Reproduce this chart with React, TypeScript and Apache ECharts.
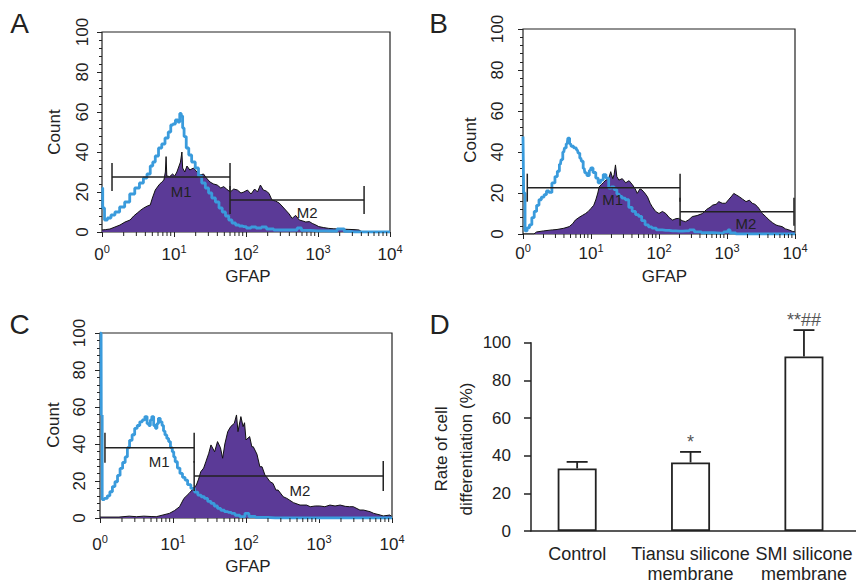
import React, { useEffect, useRef } from 'react';
import * as echarts from 'echarts';

// ---------- DATA ----------
// histogram points: [log10(GFAP intensity), count]
const aControl: number[][] = [[0,22],[0.02,12],[0.05,6],[0.1,7],[0.15,8.5],[0.21,10],[0.28,12.5],[0.35,15],[0.42,19],[0.49,22],[0.55,24.5],[0.6,27],[0.65,29],[0.69,33],[0.72,35],[0.76,38],[0.81,42],[0.85,44],[0.9,47],[0.94,50],[0.97,53.5],[1.0,54],[1.04,56],[1.07,55],[1.09,59.3],[1.11,58],[1.13,52],[1.15,47.7],[1.19,42],[1.22,38.5],[1.27,35],[1.32,32],[1.36,28],[1.41,24.5],[1.46,22],[1.5,19.5],[1.55,17],[1.6,15],[1.65,12],[1.69,10],[1.74,8],[1.78,6],[1.83,4.5],[1.88,3.5],[1.93,3],[1.97,2.7],[2.04,2],[2.1,2.5],[2.18,2],[2.25,2.5],[2.32,1.5],[2.45,1],[2.55,1],[2.68,1],[2.74,2],[2.8,0.8],[3.0,0.6],[3.2,0.5],[3.33,1.5],[3.4,0.3],[3.5,0],[4,0]];
const aGfap: number[][] = [[0,1],[0.05,1.2],[0.11,1.5],[0.18,2.5],[0.25,3.5],[0.32,5],[0.39,6],[0.44,8],[0.49,9.5],[0.54,11],[0.58,12],[0.63,13],[0.67,13.5],[0.7,17],[0.74,21],[0.79,23.5],[0.83,25],[0.86,26],[0.88,30],[0.89,37.7],[0.9,28],[0.94,27.7],[0.98,29],[1.01,28],[1.04,30],[1.07,33],[1.09,35],[1.11,40],[1.12,32],[1.15,30],[1.18,33],[1.22,31],[1.27,32],[1.32,30],[1.36,28.5],[1.41,29],[1.45,27],[1.5,25],[1.55,24],[1.6,23.5],[1.65,22],[1.69,22.7],[1.73,21.5],[1.78,20],[1.83,21.5],[1.88,21],[1.93,19.5],[1.97,20],[2.02,21],[2.07,19],[2.12,21.5],[2.16,20],[2.2,23.5],[2.24,21],[2.28,20.5],[2.32,19.3],[2.36,16],[2.41,15.5],[2.46,14.5],[2.5,13],[2.55,11],[2.6,9],[2.64,6.8],[2.69,8.3],[2.74,6],[2.79,5.5],[2.83,5],[2.88,5.2],[2.92,4.3],[2.97,3.5],[3.01,2.7],[3.08,2.2],[3.15,1.8],[3.22,1.6],[3.29,1.5],[3.36,1.4],[3.43,1.3],[3.5,1.2],[3.57,1],[3.6,0.3],[3.65,0],[4,0]];

const bControl: number[][] = [[0,47.6],[0.02,20],[0.04,1.5],[0.08,3],[0.11,4.5],[0.15,8],[0.18,11],[0.22,14],[0.25,16.7],[0.29,18],[0.33,19.2],[0.36,21],[0.4,20.3],[0.45,24.9],[0.49,28],[0.52,30.6],[0.55,34],[0.57,36.3],[0.6,40],[0.62,42],[0.65,44],[0.67,46.8],[0.7,44],[0.72,42.8],[0.77,42],[0.8,41],[0.82,39.5],[0.85,37],[0.87,35.5],[0.9,32],[0.92,29.8],[0.96,28.5],[0.99,31],[1.01,32.2],[1.05,30],[1.09,27.3],[1.12,25],[1.16,26.3],[1.2,29],[1.24,27.3],[1.28,22.4],[1.32,23],[1.36,21.6],[1.4,19.5],[1.43,18.4],[1.48,17.5],[1.53,16.7],[1.58,13],[1.63,11],[1.68,9.5],[1.72,8.6],[1.77,6.5],[1.82,4.5],[1.87,3.5],[1.92,2.9],[2.0,2],[2.1,1.8],[2.2,1.5],[2.3,1.4],[2.4,1.5],[2.49,2],[2.55,1],[2.7,0.6],[2.9,0.4],[3.0,1],[3.03,2],[3.06,0.5],[3.2,0],[4,0]];
const bGfap: number[][] = [[0,0],[0.16,0],[0.2,1],[0.3,1.5],[0.43,2],[0.5,2.2],[0.6,2.8],[0.68,3.6],[0.73,5],[0.77,6.8],[0.82,8],[0.87,9],[0.92,10],[0.96,11],[1.0,12.5],[1.04,14],[1.07,16.6],[1.1,20],[1.12,23],[1.15,24],[1.18,25],[1.22,26.3],[1.26,27],[1.29,30.4],[1.32,27],[1.34,29],[1.36,33.7],[1.38,28],[1.41,26.3],[1.46,27],[1.51,25],[1.56,26],[1.61,24],[1.65,22],[1.68,19.8],[1.72,22],[1.75,21.5],[1.79,20],[1.83,18.2],[1.87,15],[1.9,13.3],[1.95,11],[2.0,10],[2.05,11],[2.1,10],[2.15,8],[2.2,6.8],[2.25,7.5],[2.29,7.6],[2.34,6.5],[2.39,6],[2.44,7],[2.49,8.5],[2.56,9],[2.64,10],[2.7,12],[2.75,13],[2.79,14.1],[2.84,14.5],[2.88,15.8],[2.93,15],[2.98,15],[3.03,17],[3.07,18.5],[3.1,19.8],[3.14,19],[3.18,18.2],[3.23,17],[3.28,15.8],[3.33,16.5],[3.37,15],[3.41,14.5],[3.45,13.3],[3.49,11.5],[3.52,10],[3.57,8.5],[3.62,6.8],[3.67,5.5],[3.72,4.4],[3.76,4],[3.81,3.6],[3.86,2.5],[3.91,2],[3.96,1.3],[4,1]];

const cControl: number[][] = [[0,100],[0.015,100],[0.02,55.7],[0.04,10],[0.08,10.6],[0.12,12],[0.15,14.2],[0.19,17],[0.22,19.6],[0.26,23],[0.29,26.8],[0.33,30],[0.36,33],[0.39,38],[0.42,42],[0.46,45],[0.49,48.5],[0.53,50],[0.56,52],[0.6,53],[0.63,54.8],[0.66,51],[0.68,50],[0.7,53],[0.72,54.8],[0.75,50],[0.77,48.5],[0.79,51],[0.81,53.9],[0.84,52],[0.86,50],[0.88,47],[0.9,44.9],[0.93,43],[0.95,41.3],[0.98,38],[1.0,35.8],[1.02,33],[1.04,30.4],[1.08,27],[1.11,24.1],[1.15,22],[1.18,20.5],[1.22,18],[1.27,16],[1.32,14],[1.36,12.4],[1.41,11.5],[1.45,10.6],[1.5,9],[1.54,7.9],[1.59,6.5],[1.63,5.2],[1.68,4.2],[1.73,3.4],[1.78,3],[1.82,2.5],[1.88,1.5],[1.95,0.7],[2.02,2.5],[2.06,0.8],[2.2,0.3],[2.4,0],[4,0]];
const cGfap: number[][] = [[0,0.5],[0.26,0.5],[0.4,1],[0.5,0.7],[0.6,1],[0.7,0.8],[0.77,0.7],[0.85,1.5],[0.95,2.5],[1.02,4],[1.09,6.1],[1.15,10.6],[1.22,13.3],[1.27,15.5],[1.32,17.8],[1.35,21],[1.38,25],[1.42,27],[1.45,30.4],[1.49,35],[1.52,39.5],[1.57,35.8],[1.61,41.3],[1.65,38],[1.68,32.3],[1.71,40],[1.75,46.7],[1.79,49.4],[1.84,51.2],[1.87,55.7],[1.89,46.7],[1.93,54.8],[1.96,49.4],[1.98,51.5],[2.0,42.2],[2.05,44],[2.08,38.5],[2.1,38.5],[2.15,34.5],[2.19,27.7],[2.22,27.7],[2.26,23.2],[2.28,22.3],[2.33,19.6],[2.37,18.7],[2.41,15.1],[2.44,15.1],[2.51,11.5],[2.56,10.6],[2.65,8.3],[2.74,7],[2.83,7],[2.88,6.1],[2.95,6.5],[3.01,6.5],[3.08,6.1],[3.15,7],[3.22,6.5],[3.29,7],[3.36,6.3],[3.42,6.1],[3.47,6.1],[3.56,4.3],[3.61,4.3],[3.7,3.4],[3.75,2.5],[3.84,1.6],[3.88,1.1],[3.97,1.6],[4,0.7]];

// marker gates: from/to in log10 units, level = count, label position in data units
const aGates = [
  { name: 'M1', from: 0.139, to: 1.778, level: 27.5, labelAt: [1.1, 20.5] },
  { name: 'M2', from: 1.778, to: 3.64, level: 16, labelAt: [2.85, 10] },
];
const bGates = [
  { name: 'M1', from: 0.063, to: 2.31, level: 22.6, labelAt: [1.32, 17] },
  { name: 'M2', from: 2.31, to: 3.985, level: 10.9, labelAt: [3.28, 4.9] },
];
const cGates = [
  { name: 'M1', from: 0.068, to: 1.29, level: 38, labelAt: [0.81, 30.3] },
  { name: 'M2', from: 1.29, to: 3.88, level: 22.7, labelAt: [2.74, 14.6] },
];

const groups = ['Control', 'Tiansu silicone\nmembrane', 'SMI silicone\nmembrane'];
const rateMean = [33.2, 36.4, 92.7];
const rateSd = [3.5, 5.6, 14];
const significance = ['', '*', '**##'];

// ---------- STYLE ----------
const FONT = '"Liberation Sans", Arial, Helvetica, sans-serif';
const INK = '#222';
const BLUE = '#3a9bdc';
const PURPLE = '#5b3a97';

const histLayout = [
  { left: 102, top: 32, width: 288, height: 200, ylm: 11, xlm: 11, gateH: 14 },
  { left: 523, top: 29, width: 272, height: 205, ylm: 17, xlm: 8.5, gateH: 14 },
  { left: 100, top: 333, width: 292, height: 185, ylm: 12, xlm: 15, gateH: 15 },
];

// log-scale minor tick positions (axis decoration)
const minorLog: number[] = [];
for (let d = 0; d < 4; d++) for (let k = 2; k <= 9; k++) minorLog.push(d + Math.log10(k));

function buildOption() {
  const grids: any[] = [];
  const xAxes: any[] = [];
  const yAxes: any[] = [];
  const series: any[] = [];
  const hists = [
    { control: aControl, gfap: aGfap, gates: aGates },
    { control: bControl, gfap: bGfap, gates: bGates },
    { control: cControl, gfap: cGfap, gates: cGates },
  ];
  hists.forEach((h, i) => {
    const L = histLayout[i];
    grids.push({ left: L.left, top: L.top, width: L.width, height: L.height, show: true, borderColor: INK, borderWidth: 1.2, backgroundColor: 'transparent' });
    xAxes.push({
      gridIndex: i, type: 'value', min: 0, max: 4, interval: 1,
      axisLine: { show: false, onZero: false },
      axisTick: { show: true, length: 5, lineStyle: { color: INK, width: 1 } },
      splitLine: { show: false },
      axisLabel: {
        margin: L.xlm, color: INK,
        formatter: (v: number) => (v === 0 ? '{b|0}{s|0}' : '{b|10}{s|' + v + '}'),
        rich: {
          b: { fontSize: 17, lineHeight: 22, fontFamily: FONT, color: INK, verticalAlign: 'middle' },
          s: { fontSize: 11, lineHeight: 13, fontFamily: FONT, color: INK, verticalAlign: 'top' },
        },
      },
    });
    yAxes.push({
      gridIndex: i, type: 'value', min: 0, max: 100, interval: 20,
      axisLine: { show: false, onZero: false },
      axisTick: { show: true, length: 5, lineStyle: { color: INK, width: 1 } },
      minorTick: { show: true, splitNumber: 5, length: 3, lineStyle: { color: INK, width: 1 } },
      splitLine: { show: false }, minorSplitLine: { show: false },
      axisLabel: { rotate: 90, margin: L.ylm, fontSize: 17, color: INK, fontFamily: FONT },
    });
    series.push({
      type: 'line', xAxisIndex: i, yAxisIndex: i, data: h.gfap, symbol: 'none', z: 2,
      lineStyle: { color: '#111', width: 1 }, areaStyle: { color: PURPLE, opacity: 1 },
    });
    series.push({
      type: 'line', xAxisIndex: i, yAxisIndex: i, data: h.control, symbol: 'none', z: 3, step: 'middle',
      lineStyle: { color: BLUE, width: 2.8 },
    });
    series.push({
      type: 'custom', xAxisIndex: i, yAxisIndex: i, clip: false, z: 4,
      data: h.gates.map((g) => [g.from, g.level]),
      renderItem: (params: any, api: any) => {
        const g = h.gates[params.dataIndex];
        const a = api.coord([g.from, g.level]);
        const b = api.coord([g.to, g.level]);
        const l = api.coord(g.labelAt);
        const st = { stroke: INK, lineWidth: 1.5 };
        return {
          type: 'group', children: [
            { type: 'line', shape: { x1: a[0], y1: a[1], x2: b[0], y2: b[1] }, style: st },
            { type: 'line', shape: { x1: a[0], y1: a[1] - L.gateH, x2: a[0], y2: a[1] + L.gateH }, style: st },
            { type: 'line', shape: { x1: b[0], y1: b[1] - L.gateH, x2: b[0], y2: b[1] + L.gateH }, style: st },
            { type: 'text', x: l[0], y: l[1], style: { text: g.name, fill: INK, fontSize: 15, fontFamily: FONT, align: 'center', verticalAlign: 'middle' } },
          ],
        };
      },
    });
    series.push({
      type: 'custom', xAxisIndex: i, yAxisIndex: i, clip: false, z: 4,
      data: minorLog.map((v) => [v, 0]),
      renderItem: (params: any, api: any) => {
        const p = api.coord([api.value(0), 0]);
        return { type: 'line', shape: { x1: p[0], y1: p[1], x2: p[0], y2: p[1] + 4 }, style: { stroke: INK, lineWidth: 1 } };
      },
    });
  });

  // Panel D
  grids.push({ left: 531, top: 342.7, width: 325, height: 190.6 });
  xAxes.push({
    gridIndex: 3, type: 'value', min: -0.407, max: 2.459,
    axisLine: { show: true, onZero: false, lineStyle: { color: INK, width: 1.5 } },
    axisTick: { show: false }, splitLine: { show: false },
    axisLabel: {
      customValues: [0, 1, 2], margin: 13, fontSize: 18, lineHeight: 20, color: INK, fontFamily: FONT,
      formatter: (v: number) => groups[Math.round(v)] ?? '',
    },
  });
  yAxes.push({
    gridIndex: 3, type: 'value', min: 0, max: 100, interval: 20,
    axisLine: { show: true, onZero: false, lineStyle: { color: INK, width: 1.5 } },
    axisTick: { show: true, length: 7, lineStyle: { color: INK, width: 1.5 } },
    splitLine: { show: false },
    axisLabel: { margin: 20, fontSize: 17, color: INK, fontFamily: FONT },
  });
  series.push({
    type: 'bar', xAxisIndex: 3, yAxisIndex: 3, barWidth: 39, z: 2,
    data: rateMean.map((m, i) => [i, m]),
    itemStyle: { color: '#fff', borderColor: INK, borderWidth: 1.8 },
  });
  series.push({
    type: 'custom', xAxisIndex: 3, yAxisIndex: 3, clip: false, z: 5,
    data: rateMean.map((m, i) => [i, m, rateSd[i]]),
    encode: { x: 0, y: 1 },
    renderItem: (params: any, api: any) => {
      const i = api.value(0);
      const m = api.value(1);
      const sd = api.value(2);
      const base = api.coord([i, m]);
      const top = api.coord([i, m + sd]);
      const st = { stroke: INK, lineWidth: 1.8 };
      return {
        type: 'group', children: [
          { type: 'line', shape: { x1: base[0], y1: base[1], x2: top[0], y2: top[1] }, style: st },
          { type: 'line', shape: { x1: top[0] - 10.5, y1: top[1], x2: top[0] + 10.5, y2: top[1] }, style: st },
          { type: 'text', x: top[0], y: top[1] - 1, style: { text: significance[params.dataIndex], fill: '#555', fontSize: 18, fontFamily: FONT, align: 'center', verticalAlign: 'bottom' } },
        ],
      };
    },
  });

  const txt = (text: string, x: number, y: number, size: number, rot = 0, extra: any = {}) => ({
    type: 'text', x, y, rotation: rot,
    style: { text, fontSize: size, fontFamily: FONT, fill: INK, align: 'center', verticalAlign: 'middle', textAlign: 'center', textVerticalAlign: 'middle', ...extra },
  });
  const R = Math.PI / 2;
  const graphic = [
    txt('A', 19.5, 23, 28), txt('B', 438.5, 23, 28), txt('C', 19.5, 324, 28), txt('D', 439.5, 324, 28),
    txt('Count', 54, 132, 17, R), txt('Count', 470, 140, 17, R), txt('Count', 53, 425, 17, R),
    txt('GFAP', 248, 276, 17), txt('GFAP', 664.5, 276.5, 17), txt('GFAP', 248, 566.5, 17),
    txt('Rate of cell\ndifferentiation (%)', 454, 449, 17, R, { lineHeight: 25 }),
  ];

  return {
    animation: false,
    backgroundColor: '#fff',
    textStyle: { fontFamily: FONT },
    grid: grids, xAxis: xAxes, yAxis: yAxes, series, graphic,
  };
}

export default function App() {
  const ref = useRef<HTMLDivElement>(null);
  useEffect(() => {
    if (!ref.current) return;
    const chart = echarts.init(ref.current, undefined, { renderer: 'svg' });
    chart.setOption(buildOption() as any);
    return () => chart.dispose();
  }, []);
  return <div ref={ref} style={{ position: 'fixed', left: 0, top: 0, width: 856, height: 584, background: '#fff' }} />;
}
